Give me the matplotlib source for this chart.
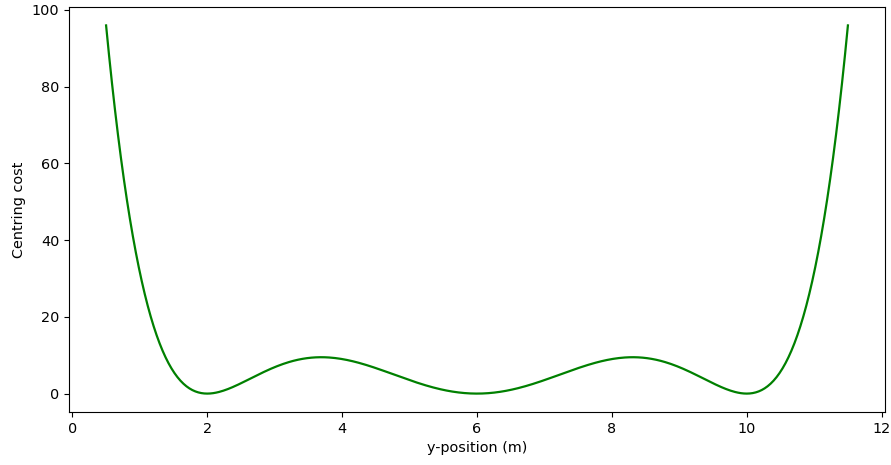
import numpy as np
import matplotlib
matplotlib.use("Agg")
import matplotlib.pyplot as plt

# Lane centres (m) where the centring cost vanishes, and the plotted span
lane_centres = [2.0, 6.0, 10.0]
cost_scale = 8.0
y_start, y_end = 0.5, 11.5

y = np.linspace(y_start, y_end, 500)
cost = (np.prod([y - c for c in lane_centres], axis=0) / cost_scale) ** 2

plt.rcParams["font.size"] = 10.4

fig = plt.figure(figsize=(8.91, 4.65), dpi=100)
ax = fig.add_axes([69 / 891, 1 - 412 / 465, (885 - 69) / 891, (412 - 7) / 465])
ax.plot(y, cost, color="green", linewidth=1.6)
ax.set_xlabel("y-position (m)")
ax.set_ylabel("Centring cost")
ax.set_xticks([0, 2, 4, 6, 8, 10, 12])
ax.set_yticks([0, 20, 40, 60, 80, 100])
fig.savefig("out.png", dpi=100)
